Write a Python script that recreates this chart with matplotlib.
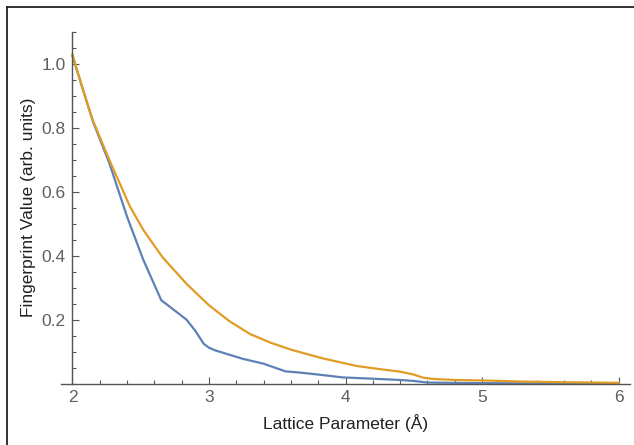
# plot.py - fingerprint value vs lattice parameter
import matplotlib
matplotlib.use("Agg")
import matplotlib.pyplot as plt
from matplotlib.lines import Line2D
from matplotlib.ticker import MultipleLocator

plt.rcParams['font.family'] = ['Liberation Sans', 'DejaVu Sans']

# values
blue_x = [2.0, 2.15, 2.27, 2.4, 2.52, 2.65, 2.75, 2.835, 2.9, 2.96, 3.0, 3.05,
          3.15, 3.25, 3.4, 3.48, 3.56, 3.67, 3.8, 3.98, 4.2, 4.4, 4.5, 4.6, 4.8,
          5.0, 5.5, 6.0]
blue_y = [1.025, 0.82, 0.69, 0.522, 0.386, 0.261, 0.228, 0.2, 0.165, 0.125,
          0.112, 0.103, 0.09, 0.077, 0.062, 0.05, 0.038, 0.034, 0.028, 0.019, 0.015,
          0.011, 0.008, 0.003, 0.002, 0.001, 0.0005, 0.0]

orange_x = [2.0, 2.08, 2.15, 2.27, 2.42, 2.52, 2.66, 2.84, 3.0, 3.15, 3.3, 3.45, 3.6,
            3.83, 4.08, 4.25, 4.4, 4.5, 4.57, 4.65, 4.81, 5.06, 5.3, 5.6, 6.0]
orange_y = [1.03, 0.915, 0.823, 0.70, 0.555, 0.48, 0.395, 0.31, 0.245, 0.195, 0.155,
            0.128, 0.106, 0.079, 0.055, 0.045, 0.037, 0.028, 0.018, 0.014, 0.011,
            0.009, 0.006, 0.004, 0.002]

x_ticks = [2, 3, 4, 5, 6]
y_ticks = [0.2, 0.4, 0.6, 0.8, 1.0]

W, H = 634, 445
fig = plt.figure(figsize=(W / 100, H / 100), dpi=100)
ax = fig.add_axes([61 / W, (H - 383.5) / H, 569 / W, 351.4 / H])

ax.plot(blue_x, blue_y, color='#5E81B5', lw=1.6, solid_joinstyle='round')
ax.plot(orange_x, orange_y, color='#E19C24', lw=1.6, solid_joinstyle='round')

ax.set_xlim(1.916, 6.084)
ax.set_ylim(0, 1.1)
ax.spines['left'].set_position(('data', 2))
ax.spines['top'].set_visible(False)
ax.spines['right'].set_visible(False)
for s in ('left', 'bottom'):
    ax.spines[s].set_color('#555555')
    ax.spines[s].set_linewidth(1.0)

ax.set_xticks(x_ticks)
ax.set_yticks(y_ticks)
ax.set_yticklabels([f"{v:.1f}" for v in y_ticks])
ax.xaxis.set_minor_locator(MultipleLocator(0.2))
ax.yaxis.set_minor_locator(MultipleLocator(0.05))
ax.tick_params(which='both', direction='in', color='#555555', labelcolor='#5f5f5f',
               labelsize=12.5, width=0.8)
ax.tick_params(which='major', length=5, pad=5)
ax.tick_params(which='minor', length=3)

ax.set_xlabel('Lattice Parameter (Å)', fontsize=12.5, color='#222222', labelpad=6)
ax.set_ylabel('Fingerprint Value (arb. units)', fontsize=12.5, color='#222222', labelpad=4)

# outer frame (top and left only are visible in the reference)
fig.add_artist(Line2D([7 / W, 1], [1 - 7 / H, 1 - 7 / H], color='#222222', lw=1.3))
fig.add_artist(Line2D([7 / W, 7 / W], [0, 1 - 7 / H], color='#222222', lw=1.3))

fig.savefig('out.png', dpi=100)
